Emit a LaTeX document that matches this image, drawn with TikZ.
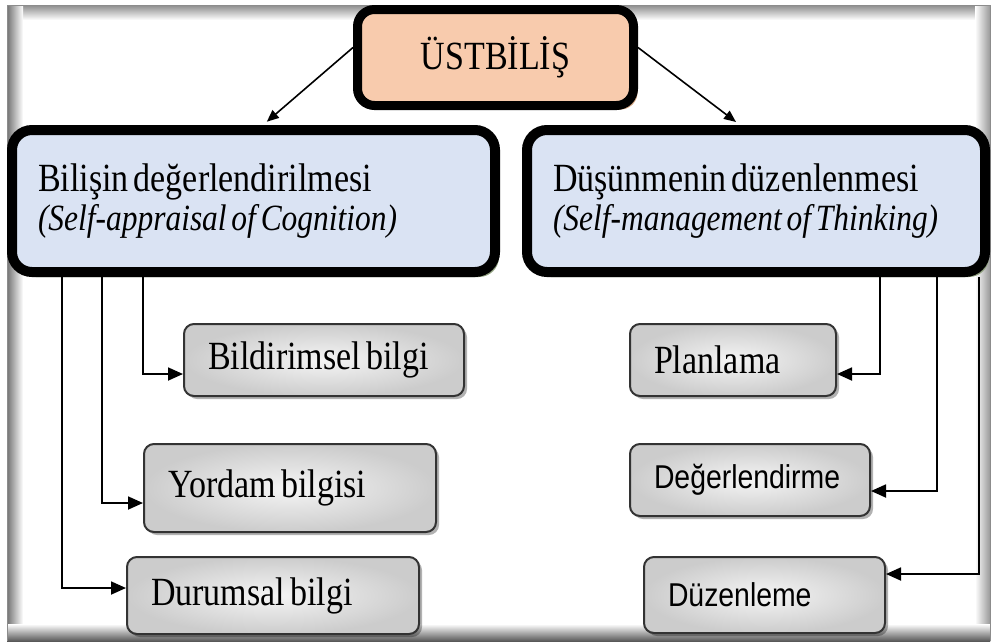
\documentclass[tikz,border=0pt]{standalone}
\usepackage{fontspec}
\setmainfont[FakeStretch=0.85]{Liberation Serif}
\newfontfamily\labelsans[FakeStretch=0.86]{Liberation Sans}
\usetikzlibrary{arrows.meta,shadows}

\definecolor{peach}{HTML}{F8CBAD}
\definecolor{peachshadow}{HTML}{D2A37F}
\definecolor{paleblue}{HTML}{DAE3F3}
\definecolor{mossshadow}{HTML}{8FA07E}
\definecolor{edgegray}{HTML}{333333}

% tight interword spacing for the serif labels
\newcommand{\tightwords}{\spaceskip=0.13em plus 0.03em\relax}
\newcommand{\serifsize}[1]{\fontsize{#1}{39}\selectfont\tightwords}

\tikzset{
  mainbox/.style={draw=black, line width=9pt, rounded corners=17pt, fill=peach,
    drop shadow={shadow xshift=4pt, shadow yshift=-4pt, fill=peachshadow, opacity=1},
    font=\serifsize{40}, align=center},
  groupbox/.style={draw=black, line width=10pt, rounded corners=20pt, fill=paleblue,
    drop shadow={shadow xshift=4pt, shadow yshift=-5pt, fill=mossshadow, opacity=1},
    inner xsep=26pt, align=left, font=\serifsize{40},
    execute at begin node=\tightwords},
  itembox/.style={draw=edgegray, line width=2pt, rounded corners=10pt,
    shading=radial, inner color=white!96!black, outer color=black!20,
    drop shadow={shadow xshift=3pt, shadow yshift=-3pt, fill=black, opacity=0.3},
    inner xsep=24pt, align=left, font=\serifsize{40},
    execute at begin node=\tightwords},
  sanslabel/.style={font=\labelsans\fontsize{33}{34}\selectfont},
  toparrow/.style={line width=1.6pt, -{Triangle[length=12pt,width=10pt]}},
  subarrow/.style={line width=1.8pt, -{Triangle[length=15pt,width=13pt]}},
}

\begin{document}
\begin{tikzpicture}[x=1pt, y=-1pt]
  \useasboundingbox (0,0) rectangle (993,641);
  \fill[white] (0,0) rectangle (993,641);

  % framed panel with a soft inner shadow along its edges
  \shade[top color=black!45, bottom color=white] (7,5) rectangle (990,20);
  \shade[left color=black!55, right color=white] (7,5) rectangle (23,641);
  \shade[left color=white, right color=black!40] (975,5) rectangle (990,641);
  \shade[top color=white, bottom color=black!65] (7,624) rectangle (990,641);
  \draw[black!45, line width=1pt] (990,641) -- (990,5) -- (7,5) -- (7,641);

  % root
  \node[mainbox, minimum width=276pt, minimum height=96pt] (root) at (495.5,57.5) {ÜSTBİLİŞ};

  % the two branches
  \node[groupbox, text width=431pt, minimum height=142pt] (appraisal) at (253.5,201)
    {Bilişin değerlendirilmesi\\{\itshape\serifsize{37}(Self-appraisal of Cognition)}};
  \node[groupbox, text width=406pt, minimum height=142pt] (manage) at (756,201)
    {Düşünmenin düzenlenmesi\\{\itshape\serifsize{37}(Self-management of Thinking)}};

  % items under the first branch
  \node[itembox, text width=232pt, minimum height=72pt] (declarative) at (324,360) {Bildirimsel bilgi};
  \node[itembox, text width=244pt, minimum height=88pt] (procedural) at (290,488) {Yordam bilgisi};
  \node[itembox, text width=244pt, minimum height=77pt] (conditional) at (273,595.5) {Durumsal bilgi};

  % items under the second branch
  \node[itembox, text width=158pt, minimum height=72pt] (planning) at (733,360) {Planlama};
  \node[itembox, sanslabel, text width=192pt, minimum height=72pt] (evaluating) at (750,480) {Değerlendirme};
  \node[itembox, sanslabel, text width=193pt, minimum height=76pt] (regulating) at (764.5,595) {Düzenleme};

  % root to branches
  \draw[toparrow, shorten >=5pt] ([yshift=10pt]root.west) -- ([xshift=9.5pt]appraisal.north);
  \draw[toparrow, shorten >=5pt] ([yshift=10pt]root.east) -- ([xshift=-16pt]manage.north);

  % first branch to its items
  \draw[subarrow] ([xshift=-110.5pt]appraisal.south) |- ([yshift=-14pt]declarative.west);
  \draw[subarrow] ([xshift=-151.5pt]appraisal.south) |- ([yshift=-15pt]procedural.west);
  \draw[subarrow] ([xshift=-191.5pt]appraisal.south) |- ([yshift=7.5pt]conditional.west);

  % second branch to its items
  \draw[subarrow] ([xshift=124pt]manage.south) |- ([yshift=-14pt]planning.east);
  \draw[subarrow] ([xshift=181pt]manage.south) |- ([yshift=-11pt]evaluating.east);
  \draw[subarrow] ([xshift=223pt]manage.south) |- ([yshift=21pt]regulating.east);
\end{tikzpicture}
\end{document}
